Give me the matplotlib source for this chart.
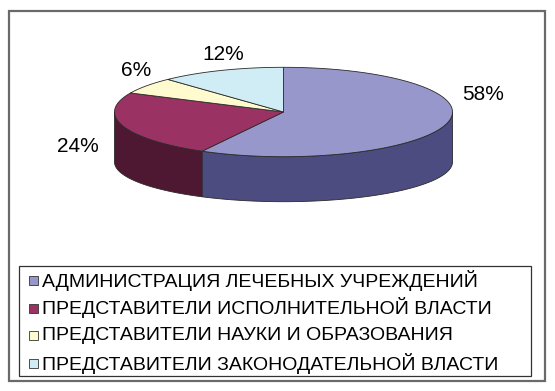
import numpy as np
import matplotlib.pyplot as plt
from matplotlib.patches import Polygon, Rectangle

plt.rcParams['font.family'] = ['Liberation Sans', 'DejaVu Sans']

# data
labels = [
    "АДМИНИСТРАЦИЯ ЛЕЧЕБНЫХ УЧРЕЖДЕНИЙ",
    "ПРЕДСТАВИТЕЛИ ИСПОЛНИТЕЛЬНОЙ ВЛАСТИ",
    "ПРЕДСТАВИТЕЛИ НАУКИ И ОБРАЗОВАНИЯ",
    "ПРЕДСТАВИТЕЛИ ЗАКОНОДАТЕЛЬНОЙ ВЛАСТИ",
]
shares = [58, 24, 6, 12]

# styles
top_colors = ["#9797cb", "#9a3363", "#fffbcf", "#d0ecf4"]
side_colors = ["#4c4c80", "#4e1832", "#b5b28f", "#8fa8b0"]
label_xy = [(483, 94), (78, 147), (136, 70), (223, 54)]

W, H = 555, 391
cx, cy = 283.5, 112.0     # centre of the top face (pixels)
rx, ry = 169.0, 44.7      # radii of the top face
depth = 50.0              # thickness at the rim
ry_bot = 39.7             # bottom rim is a bit flatter (perspective)
edge = "#2a2a2a"


def rim(theta_deg, r_y, dy=0.0):
    t = np.radians(theta_deg)
    return np.column_stack([cx + rx * np.cos(t), cy + dy - r_y * np.sin(t)])


fig = plt.figure(figsize=(W / 100, H / 100), dpi=100)
ax = fig.add_axes([0, 0, 1, 1])
ax.set_xlim(0, W)
ax.set_ylim(H, 0)
ax.axis("off")

total = float(sum(shares))
bounds = 90 - 360 * np.concatenate([[0], np.cumsum(shares)]) / total

# side walls first (only the front half, angles between -180 and 0)
for i in range(len(shares)):
    hi, lo = bounds[i], bounds[i + 1]
    for k in (-360, 0, 360):
        a = max(lo, -180 + k)
        b = min(hi, 0 + k)
        if b <= a:
            continue
        t = np.linspace(b, a, 80)
        pts = np.vstack([rim(t, ry), rim(t[::-1], ry_bot, depth)])
        ax.add_patch(Polygon(pts, closed=True, fc=side_colors[i], ec=edge, lw=0.6, zorder=2))

# top face
for i in range(len(shares)):
    t = np.linspace(bounds[i], bounds[i + 1], 120)
    pts = np.vstack([[cx, cy], rim(t, ry)])
    ax.add_patch(Polygon(pts, closed=True, fc=top_colors[i], ec=edge, lw=0.6, zorder=3))

for i, s in enumerate(shares):
    ax.text(label_xy[i][0], label_xy[i][1], f"{s}%", fontsize=15,
            ha="center", va="center", color="black", zorder=4)

# outer chart frame
ax.add_patch(Rectangle((8.5, 10.5), 536.5, 370.5, fill=False, ec="#6a6a6a", lw=1.6, zorder=1))

# legend
ax.add_patch(Rectangle((18.5, 265.5), 512, 110, fill=False, ec="#333333", lw=0.9, zorder=1))
row_y = [280.5, 308, 335.5, 363]
for i, lab in enumerate(labels):
    ax.add_patch(Rectangle((29, row_y[i] - 4.5), 9, 9, fc=top_colors[i], ec="#333333", lw=0.6))
    ax.text(42.5, row_y[i], lab, fontsize=14, ha="left", va="center", color="black")

fig.savefig("out.png", dpi=100)
